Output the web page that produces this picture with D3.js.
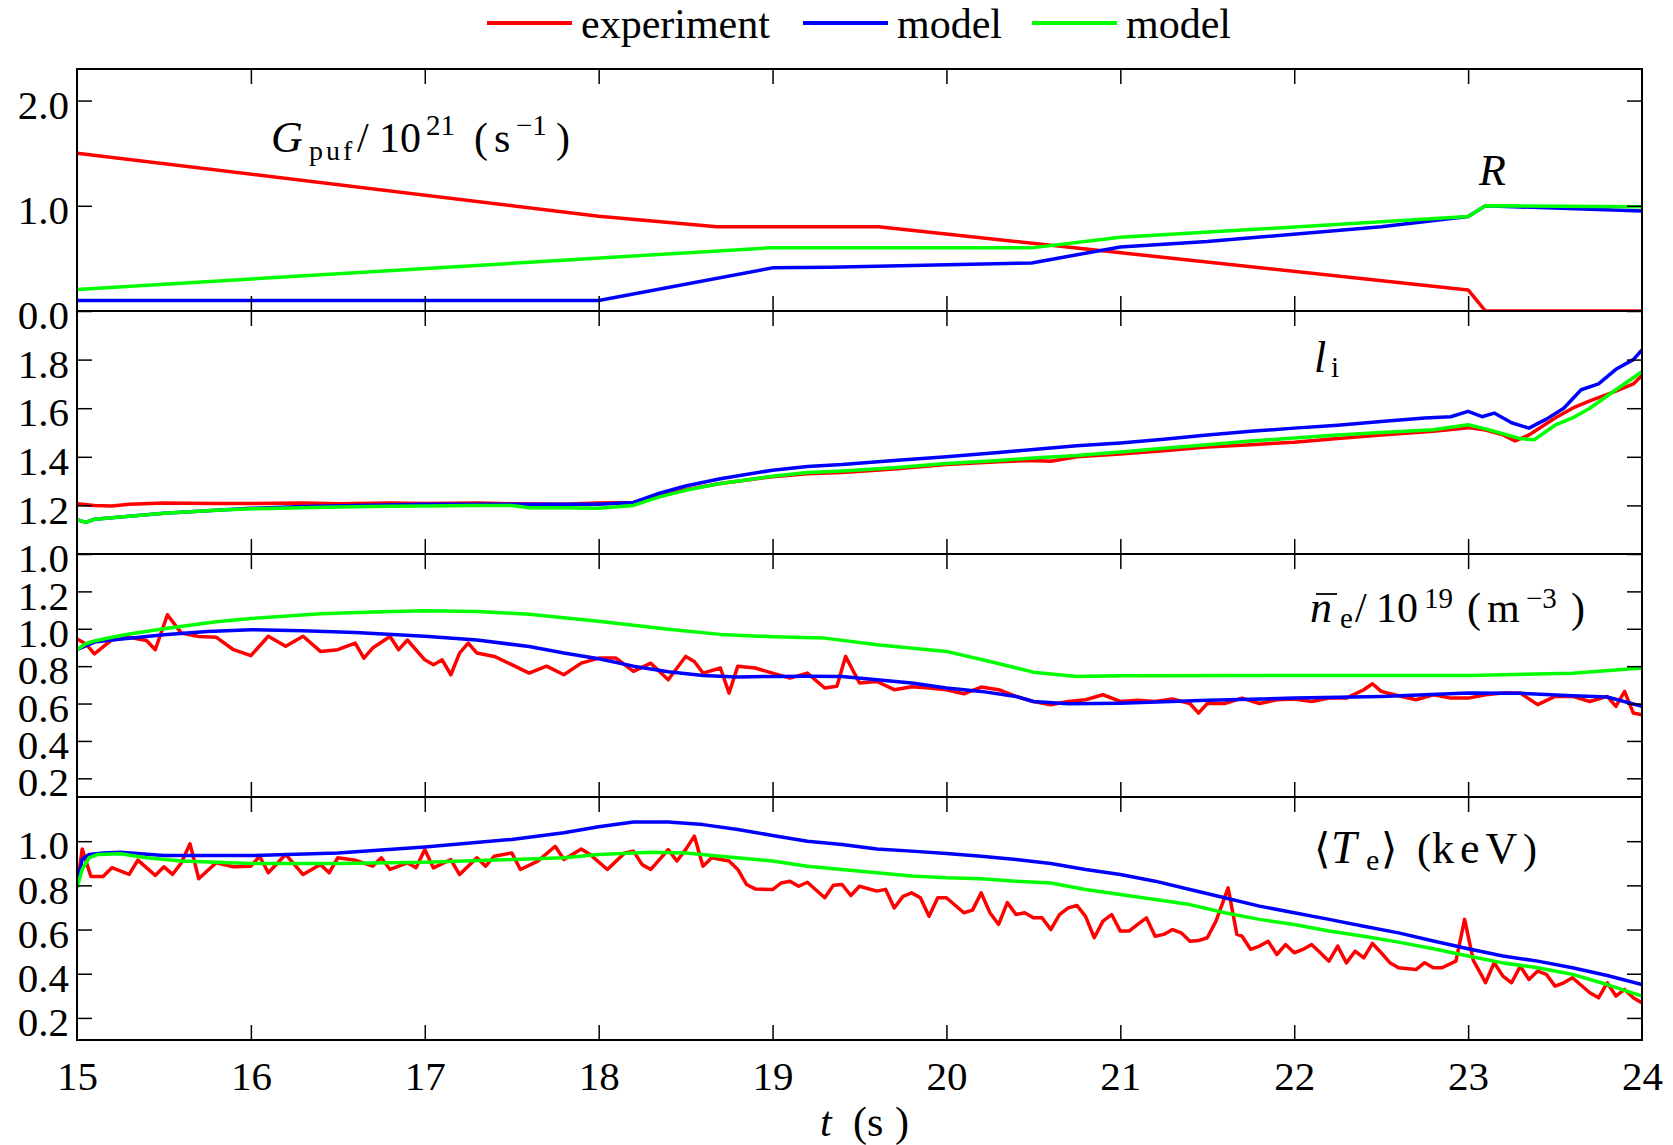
<!DOCTYPE html>
<html>
<head>
<meta charset="utf-8">
<script src="https://cdn.jsdelivr.net/npm/d3@7"></script>
<style>
  body { margin: 0; background: #fff; }
  svg text { font-family: "Liberation Serif", "DejaVu Serif", serif; fill: #000; }
</style>
</head>
<body>
<svg width="1673" height="1145"></svg>
<script>
const svg = d3.select("svg");

// series colours + legend names
const colorMap = { exp: "#ff0000", blue: "#0000ff", green: "#00ff00" };
const legendNames = ["experiment", "model", "model"];

const timeTicks = [15, 16, 17, 18, 19, 20, 21, 22, 23, 24];
const innerTimeTicks = [16, 17, 18, 19, 20, 21, 22, 23];

// panel 1: gas puff rate G_puf / 1e21 (s^-1)
const gpufExp = [[15,1.5],[18,0.9],[18.68,0.8],[19.61,0.8],[23,0.2],[23.1,0],[24,0]];
const gpufBlue = [[15,0.1],[18,0.1],[19,0.41],[19.33,0.416],[20.49,0.457],[21,0.609],[21.5,0.66],[22.5,0.8],[23,0.898],[23.1,1.0],[24,0.95]];
const gpufGreen = [[15,0.205],[18.98,0.6],[20.49,0.6],[21,0.7],[23,0.898],[23.1,1.0],[24,0.99]];

// panel 2: internal inductance l_i
const liExp = [[15,1.207],[15.1,1.2],[15.2,1.198],[15.3,1.205],[15.5,1.21],[15.8,1.208],[16,1.208],[16.3,1.21],[16.5,1.207],[16.8,1.21],[17,1.208],[17.3,1.21],[17.5,1.207],[17.8,1.205],[18,1.21],[18.2,1.212],[18.35,1.24],[18.5,1.265],[18.7,1.29],[19,1.318],[19.2,1.33],[19.4,1.335],[19.7,1.35],[20,1.368],[20.3,1.38],[20.5,1.385],[20.6,1.382],[20.75,1.4],[21,1.412],[21.25,1.425],[21.5,1.44],[21.75,1.45],[22,1.46],[22.25,1.475],[22.5,1.49],[22.8,1.505],[23,1.52],[23.1,1.51],[23.2,1.49],[23.27,1.465],[23.35,1.49],[23.5,1.56],[23.6,1.6],[23.7,1.63],[23.85,1.67],[23.95,1.7],[24,1.735]];
const liBlue = [[15,1.141],[15.05,1.13],[15.1,1.143],[15.3,1.155],[15.5,1.168],[15.8,1.18],[16,1.188],[16.3,1.195],[16.6,1.2],[17,1.205],[17.5,1.205],[18,1.205],[18.2,1.212],[18.35,1.25],[18.5,1.28],[18.7,1.31],[19,1.345],[19.2,1.36],[19.4,1.368],[19.7,1.385],[20,1.4],[20.3,1.418],[20.5,1.43],[20.75,1.445],[21,1.457],[21.25,1.472],[21.5,1.49],[21.75,1.505],[22,1.518],[22.25,1.53],[22.5,1.545],[22.75,1.56],[22.9,1.565],[23,1.587],[23.08,1.565],[23.15,1.58],[23.25,1.54],[23.35,1.518],[23.45,1.555],[23.55,1.6],[23.65,1.676],[23.75,1.7],[23.85,1.76],[23.95,1.8],[24,1.84]];
const liGreen = [[15,1.141],[15.05,1.13],[15.1,1.143],[15.3,1.155],[15.5,1.168],[15.8,1.18],[16,1.186],[16.3,1.19],[16.5,1.193],[16.8,1.196],[17,1.198],[17.3,1.2],[17.5,1.2],[17.6,1.19],[17.8,1.19],[18,1.188],[18.2,1.2],[18.35,1.235],[18.5,1.262],[18.7,1.29],[19,1.32],[19.2,1.335],[19.4,1.342],[19.7,1.355],[20,1.372],[20.3,1.385],[20.5,1.395],[20.75,1.405],[21,1.42],[21.25,1.435],[21.5,1.45],[21.75,1.465],[22,1.477],[22.25,1.49],[22.5,1.5],[22.8,1.511],[23,1.532],[23.1,1.515],[23.2,1.495],[23.3,1.475],[23.38,1.47],[23.5,1.53],[23.6,1.56],[23.7,1.6],[23.85,1.676],[24,1.75]];

// panel 3: line-averaged density n_e / 1e19 (m^-3)
const neExp = [[15,0.945],[15.05,0.92],[15.1,0.866],[15.2,0.94],[15.3,0.955],[15.4,0.937],[15.45,0.888],[15.52,1.075],[15.6,0.977],[15.7,0.959],[15.8,0.955],[15.9,0.888],[16,0.856],[16.1,0.96],[16.2,0.906],[16.3,0.96],[16.4,0.879],[16.5,0.888],[16.6,0.923],[16.65,0.843],[16.7,0.897],[16.8,0.959],[16.85,0.888],[16.9,0.94],[17,0.834],[17.05,0.808],[17.1,0.834],[17.15,0.754],[17.2,0.87],[17.25,0.923],[17.3,0.87],[17.4,0.852],[17.5,0.808],[17.6,0.763],[17.7,0.8],[17.8,0.754],[17.9,0.816],[18,0.843],[18.1,0.843],[18.2,0.772],[18.3,0.816],[18.4,0.727],[18.5,0.852],[18.55,0.825],[18.6,0.763],[18.7,0.79],[18.75,0.656],[18.8,0.8],[18.9,0.79],[19,0.763],[19.1,0.736],[19.2,0.763],[19.3,0.683],[19.37,0.692],[19.42,0.852],[19.5,0.71],[19.6,0.718],[19.7,0.674],[19.8,0.69],[19.9,0.683],[20,0.674],[20.1,0.652],[20.2,0.688],[20.3,0.674],[20.4,0.638],[20.5,0.611],[20.6,0.594],[20.7,0.611],[20.8,0.62],[20.9,0.647],[21,0.611],[21.1,0.617],[21.2,0.611],[21.3,0.624],[21.4,0.6],[21.45,0.549],[21.5,0.6],[21.6,0.6],[21.7,0.629],[21.8,0.6],[21.9,0.62],[22,0.624],[22.1,0.611],[22.2,0.629],[22.3,0.629],[22.4,0.674],[22.45,0.706],[22.5,0.665],[22.6,0.642],[22.7,0.62],[22.8,0.647],[22.9,0.629],[23,0.629],[23.1,0.647],[23.2,0.656],[23.3,0.656],[23.4,0.594],[23.5,0.638],[23.6,0.638],[23.7,0.611],[23.8,0.638],[23.85,0.585],[23.9,0.665],[23.95,0.549],[24,0.54]];
const neBlue = [[15,0.888],[15.1,0.929],[15.2,0.94],[15.5,0.968],[15.75,0.985],[16,0.995],[16.3,0.99],[16.6,0.98],[17,0.96],[17.3,0.94],[17.6,0.905],[17.8,0.87],[18,0.84],[18.2,0.8],[18.4,0.77],[18.6,0.75],[18.8,0.742],[19,0.745],[19.2,0.746],[19.4,0.745],[19.6,0.727],[19.8,0.71],[20,0.683],[20.2,0.665],[20.4,0.638],[20.5,0.611],[20.7,0.599],[21,0.602],[21.5,0.617],[22,0.629],[22.5,0.638],[23,0.656],[23.3,0.655],[23.6,0.642],[23.8,0.635],[24,0.585]];
const neGreen = [[15,0.888],[15.05,0.92],[15.1,0.935],[15.2,0.955],[15.3,0.972],[15.5,1.0],[15.8,1.037],[16,1.055],[16.4,1.08],[16.7,1.09],[17,1.096],[17.3,1.093],[17.6,1.078],[18,1.04],[18.4,0.997],[18.7,0.97],[19,0.957],[19.3,0.95],[19.6,0.915],[20,0.879],[20.25,0.825],[20.5,0.768],[20.75,0.745],[21,0.748],[22,0.75],[23,0.75],[23.6,0.762],[24,0.79]];

// panel 4: volume-averaged electron temperature <T_e> (keV)
const teExp = [[15,0.796],[15.03,0.965],[15.08,0.84],[15.15,0.84],[15.2,0.88],[15.3,0.85],[15.35,0.914],[15.45,0.845],[15.5,0.884],[15.55,0.85],[15.6,0.902],[15.65,0.988],[15.7,0.83],[15.8,0.902],[15.9,0.884],[16,0.887],[16.05,0.932],[16.1,0.857],[16.2,0.94],[16.3,0.849],[16.4,0.894],[16.45,0.857],[16.5,0.925],[16.6,0.914],[16.7,0.887],[16.75,0.925],[16.8,0.872],[16.9,0.902],[16.95,0.88],[17,0.962],[17.05,0.879],[17.15,0.917],[17.2,0.849],[17.3,0.925],[17.35,0.887],[17.4,0.932],[17.5,0.947],[17.55,0.872],[17.65,0.91],[17.75,0.977],[17.8,0.917],[17.9,0.965],[17.95,0.94],[18.05,0.872],[18.15,0.947],[18.2,0.955],[18.25,0.894],[18.3,0.872],[18.4,0.962],[18.45,0.91],[18.5,0.962],[18.55,1.023],[18.6,0.887],[18.65,0.925],[18.75,0.91],[18.8,0.872],[18.85,0.804],[18.9,0.784],[19,0.781],[19.05,0.811],[19.1,0.819],[19.15,0.796],[19.2,0.814],[19.3,0.744],[19.35,0.8],[19.4,0.804],[19.45,0.754],[19.5,0.796],[19.6,0.774],[19.65,0.782],[19.7,0.698],[19.75,0.75],[19.8,0.766],[19.85,0.744],[19.9,0.66],[19.95,0.744],[20,0.744],[20.1,0.676],[20.15,0.688],[20.2,0.766],[20.25,0.676],[20.3,0.623],[20.35,0.722],[20.4,0.668],[20.45,0.676],[20.5,0.653],[20.55,0.653],[20.6,0.6],[20.65,0.668],[20.7,0.698],[20.75,0.709],[20.8,0.66],[20.85,0.563],[20.9,0.638],[20.95,0.668],[21,0.593],[21.05,0.593],[21.1,0.623],[21.15,0.653],[21.2,0.57],[21.25,0.578],[21.3,0.6],[21.35,0.585],[21.4,0.547],[21.45,0.55],[21.5,0.563],[21.55,0.638],[21.62,0.789],[21.67,0.578],[21.7,0.57],[21.75,0.51],[21.8,0.525],[21.85,0.547],[21.9,0.487],[21.95,0.532],[22,0.495],[22.05,0.51],[22.1,0.532],[22.15,0.495],[22.2,0.457],[22.25,0.525],[22.3,0.449],[22.35,0.502],[22.4,0.472],[22.45,0.537],[22.5,0.495],[22.55,0.45],[22.6,0.427],[22.7,0.419],[22.75,0.45],[22.8,0.427],[22.85,0.427],[22.93,0.457],[22.98,0.646],[23.03,0.46],[23.07,0.404],[23.1,0.359],[23.15,0.45],[23.2,0.389],[23.25,0.359],[23.3,0.434],[23.35,0.374],[23.4,0.412],[23.45,0.397],[23.5,0.344],[23.55,0.359],[23.6,0.382],[23.7,0.314],[23.75,0.291],[23.8,0.359],[23.85,0.299],[23.9,0.329],[23.95,0.291],[24,0.268]];
const teBlue = [[15,0.8],[15.03,0.917],[15.07,0.94],[15.15,0.947],[15.25,0.95],[15.5,0.935],[16,0.935],[16.5,0.947],[17,0.974],[17.5,1.008],[17.8,1.038],[18,1.065],[18.2,1.087],[18.4,1.087],[18.6,1.075],[18.8,1.053],[19,1.026],[19.2,1.0],[19.4,0.985],[19.6,0.965],[19.8,0.955],[20,0.944],[20.2,0.932],[20.4,0.917],[20.6,0.899],[20.8,0.872],[21,0.849],[21.2,0.819],[21.4,0.781],[21.6,0.744],[21.8,0.706],[22,0.676],[22.2,0.646],[22.4,0.615],[22.6,0.585],[22.8,0.548],[23,0.513],[23.2,0.48],[23.4,0.457],[23.6,0.427],[23.8,0.392],[24,0.351]];
const teGreen = [[15,0.789],[15.03,0.872],[15.07,0.925],[15.12,0.94],[15.25,0.943],[15.4,0.925],[15.6,0.91],[16,0.899],[16.5,0.899],[17,0.905],[17.5,0.917],[17.8,0.925],[18,0.94],[18.3,0.95],[18.5,0.947],[18.7,0.932],[19,0.91],[19.2,0.887],[19.4,0.872],[19.6,0.857],[19.8,0.842],[20,0.834],[20.2,0.83],[20.4,0.819],[20.6,0.811],[20.8,0.781],[21,0.759],[21.2,0.736],[21.4,0.713],[21.6,0.676],[21.8,0.646],[22,0.623],[22.2,0.593],[22.4,0.57],[22.6,0.543],[22.8,0.513],[23,0.48],[23.2,0.449],[23.4,0.427],[23.6,0.397],[23.8,0.351],[24,0.299]];

// layout
const left = 77, right = 1642;
const edges = [69, 311, 554, 797, 1040];
const tickLen = 15;

const panels = [
  { domain: [0, 2.3], ticks: [0, 1, 2], series: [gpufExp, gpufBlue, gpufGreen] },
  { domain: [1, 2], ticks: [1.0, 1.2, 1.4, 1.6, 1.8], series: [liExp, liBlue, liGreen] },
  { domain: [0.1, 1.4], ticks: [0.2, 0.4, 0.6, 0.8, 1.0, 1.2], series: [neExp, neBlue, neGreen] },
  { domain: [0.1, 1.2], ticks: [0.2, 0.4, 0.6, 0.8, 1.0], series: [teExp, teBlue, teGreen] }
];
const seriesColors = [colorMap.exp, colorMap.blue, colorMap.green];

const x = d3.scaleLinear().domain([15, 24]).range([left, right]);

function styleAxis(g) {
  g.select(".domain").remove();
  g.selectAll(".tick line").attr("stroke", "#000").attr("stroke-width", 1.5);
  g.attr("font-family", "Liberation Serif, DejaVu Serif, serif").attr("font-size", 41);
}

panels.forEach((p, i) => {
  const top = edges[i], bottom = edges[i + 1];
  const y = d3.scaleLinear().domain(p.domain).range([bottom, top]);
  const g = svg.append("g");

  g.append("clipPath").attr("id", "clip" + i)
    .append("rect").attr("x", left).attr("y", top)
    .attr("width", right - left).attr("height", bottom - top);

  const line = d3.line().x(d => x(d[0])).y(d => y(d[1]));
  p.series.forEach((s, k) => {
    g.append("path")
      .datum(s)
      .attr("clip-path", `url(#clip${i})`)
      .attr("fill", "none")
      .attr("stroke", seriesColors[k])
      .attr("stroke-width", 3.5)
      .attr("stroke-linejoin", "round")
      .attr("d", line);
  });

  // inward ticks on all four sides
  g.append("g").attr("transform", `translate(${left},0)`)
    .call(d3.axisLeft(y).tickValues(p.ticks).tickSize(-tickLen).tickPadding(8).tickFormat(d3.format(".1f")))
    .call(styleAxis)
    .selectAll("text").attr("dy", "0.43em");
  g.append("g").attr("transform", `translate(${right},0)`)
    .call(d3.axisRight(y).tickValues(p.ticks).tickSize(-tickLen).tickFormat(""))
    .call(styleAxis);
  g.append("g").attr("transform", `translate(0,${top})`)
    .call(d3.axisTop(x).tickValues(innerTimeTicks).tickSize(-tickLen).tickFormat(""))
    .call(styleAxis);
  g.append("g").attr("transform", `translate(0,${bottom})`)
    .call(d3.axisBottom(x).tickValues(innerTimeTicks).tickSize(-tickLen).tickFormat(""))
    .call(styleAxis);

  g.append("rect")
    .attr("x", left).attr("y", top)
    .attr("width", right - left).attr("height", bottom - top)
    .attr("fill", "none").attr("stroke", "#000").attr("stroke-width", 2);
});

// time tick labels
svg.append("g").attr("transform", `translate(0,${edges[4]})`)
  .call(d3.axisBottom(x).tickValues(timeTicks).tickSize(0).tickPadding(21).tickFormat(d3.format("d")))
  .call(styleAxis);

// legend
const legendX = [487, 803, 1032];
legendNames.forEach((name, k) => {
  svg.append("line")
    .attr("x1", legendX[k]).attr("x2", legendX[k] + 85)
    .attr("y1", 23).attr("y2", 23)
    .attr("stroke", seriesColors[k]).attr("stroke-width", 4);
  svg.append("text")
    .attr("x", legendX[k] + 94).attr("y", 38)
    .attr("font-size", 42)
    .text(name);
});

// math-style labels, each piece placed separately
function mathLabel(parts) {
  const t = svg.append("text");
  parts.forEach(([s, px, py, size, italic, ls]) => {
    t.append("tspan")
      .attr("x", px).attr("y", py)
      .attr("font-size", size)
      .attr("font-style", italic ? "italic" : "normal")
      .attr("letter-spacing", ls || 0)
      .text(s);
  });
}

mathLabel([
  ["G", 271, 152, 44, true], ["puf", 309, 160, 28, false, 3], ["/", 357, 152, 42],
  ["10", 379, 152, 42], ["21", 426, 135, 29], ["(", 474, 152, 42], ["s", 494, 152, 42],
  ["\u22121", 516, 135, 29], [")", 556, 152, 42]
]);
mathLabel([["R", 1479, 185, 44, true]]);
mathLabel([["l", 1314, 372, 44, true], ["i", 1331, 377, 29]]);
mathLabel([
  ["n", 1310, 622, 44, true], ["e", 1340, 628, 29], ["/", 1355, 622, 42], ["10", 1376, 622, 42],
  ["19", 1424, 608, 29], ["(", 1467, 622, 42], ["m", 1487, 622, 42], ["\u22123", 1526, 608, 29],
  [")", 1571, 622, 42]
]);
svg.append("line").attr("x1", 1316).attr("x2", 1337).attr("y1", 594).attr("y2", 594)
  .attr("stroke", "#000").attr("stroke-width", 1.8);
mathLabel([
  ["\u27E8", 1314, 863, 42], ["T", 1331, 863, 46, true], ["e", 1366, 870, 30], ["\u27E9", 1381, 863, 42],
  ["(", 1417, 863, 42], ["keV", 1432, 863, 44, false, 6], [")", 1523, 863, 42]
]);
mathLabel([["t", 820, 1136, 42, true], ["(", 853, 1136, 42], ["s", 867, 1136, 42], [")", 895, 1136, 42]]);
</script>
</body>
</html>
